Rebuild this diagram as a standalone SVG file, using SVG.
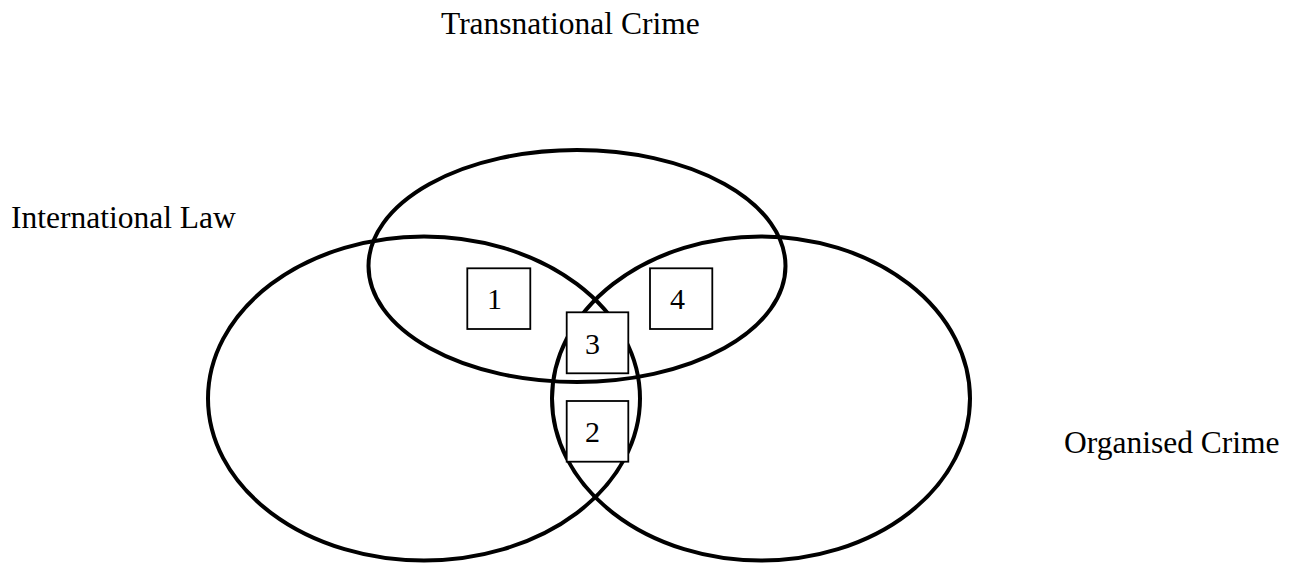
<svg xmlns="http://www.w3.org/2000/svg" width="1295" height="563" viewBox="0 0 1295 563">
  <style>
    .set { fill: none; stroke: #000; stroke-width: 4; }
    .box { fill: #fff; stroke: #000; stroke-width: 1.8; }
    .label { font-family: "Liberation Serif", "Times New Roman", serif; font-size: 31.5px; fill: #000; }
    .num { font-family: "Liberation Serif", "Times New Roman", serif; font-size: 30px; fill: #000; }
  </style>
  <rect width="1295" height="563" fill="#fff"/>
  <g id="set-transnational-crime">
    <ellipse class="set" cx="577" cy="266" rx="208.5" ry="116"/>
    <text class="label" x="441" y="34">Transnational Crime</text>
  </g>
  <g id="set-international-law">
    <ellipse class="set" cx="424" cy="398.5" rx="216" ry="162"/>
    <text class="label" x="11" y="228">International Law</text>
  </g>
  <g id="set-organised-crime">
    <ellipse class="set" cx="761" cy="398.5" rx="209" ry="162"/>
    <text class="label" x="1064" y="453">Organised Crime</text>
  </g>
  <g id="connectors"></g>
  <g id="region-1">
    <rect class="box" x="467.3" y="268.3" width="63" height="60.7"/>
    <text class="num" x="487" y="308.5">1</text>
  </g>
  <g id="region-4">
    <rect class="box" x="650" y="268.3" width="62.3" height="60.7"/>
    <text class="num" x="670" y="308.5">4</text>
  </g>
  <g id="region-3">
    <rect class="box" x="566.7" y="312.3" width="61.6" height="61"/>
    <text class="num" x="585" y="353.5">3</text>
  </g>
  <g id="region-2">
    <rect class="box" x="566.7" y="401" width="61.6" height="60.7"/>
    <text class="num" x="585" y="442">2</text>
  </g>
</svg>
